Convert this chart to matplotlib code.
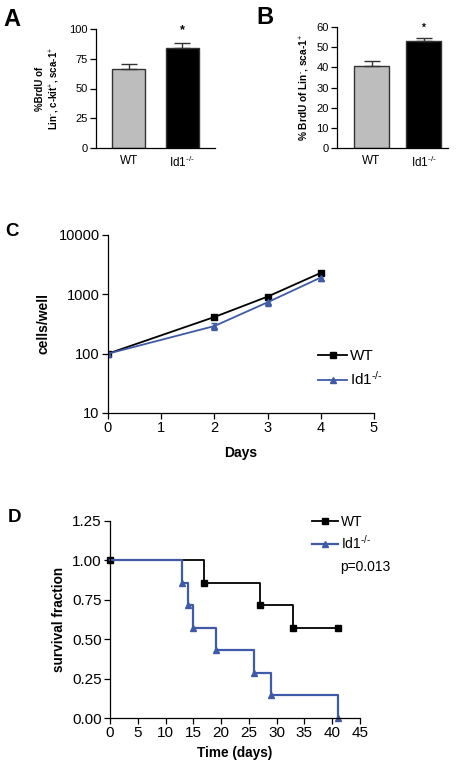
import numpy as np
import matplotlib
matplotlib.use("Agg")
import matplotlib.pyplot as plt

plt.rcParams['font.family'] = ['Liberation Sans', 'DejaVu Sans']
plt.rcParams['mathtext.fontset'] = 'custom'
plt.rcParams['mathtext.rm'] = 'Liberation Sans'
plt.rcParams['mathtext.it'] = 'Liberation Sans:italic'
plt.rcParams['mathtext.bf'] = 'Liberation Sans:bold'

# ---- data ----
ko_name = r'Id1$^{\text{-/-}}$'
groups = ['WT', ko_name]
bar_colors = ['#bdbdbd', '#000000']

a_vals = [66, 84]
a_err = [4.5, 4.5]
b_vals = [40.5, 53]
b_err = [2.5, 1.7]

c_days = [0, 2, 3, 4]
c_wt = [100, 415, 915, 2300]
c_wt_err = [3, 30, 60, 200]
c_ko = [100, 292, 735, 1920]
c_ko_err = [3, 40, 110, 250]

d_wt_t = [0, 17, 27, 33, 41]
d_wt_s = [1.0, 0.857, 0.714, 0.571, 0.571]
d_ko_t = [0, 13, 14, 15, 19, 26, 29, 41]
d_ko_s = [1.0, 0.857, 0.714, 0.571, 0.429, 0.286, 0.143, 0.0]

blue = '#3f5aa6'
W, H = 463, 769

fig = plt.figure(figsize=(W / 100, H / 100), dpi=100)


def px_axes(left, top, right, bottom):
    return fig.add_axes([left / W, 1 - bottom / H, (right - left) / W, (bottom - top) / H])


def style(ax, size):
    for s in ['top', 'right']:
        ax.spines[s].set_visible(False)
    for s in ['left', 'bottom']:
        ax.spines[s].set_linewidth(0.9)
    ax.tick_params(direction='out', length=4, width=0.9, labelsize=size, pad=2)


# ---- panel A ----
axA = px_axes(96, 29, 215, 148)
axA.bar([0, 1], a_vals, width=0.62, color=bar_colors, edgecolor='#333333', linewidth=1)
axA.errorbar([0, 1], a_vals, yerr=[[0, 0], a_err], fmt='none', ecolor='#333333',
             elinewidth=1, capsize=6, capthick=1)
axA.set_xlim(-0.62, 1.62)
axA.set_ylim(0, 100)
axA.set_yticks([0, 25, 50, 75, 100])
axA.set_xticks([0, 1])
axA.set_xticklabels(groups)
style(axA, 8)
axA.tick_params(axis='x', length=0, pad=5, labelsize=8.5)
axA.text(1, 99, '*', ha='center', va='center', fontsize=9, fontweight='bold')
axA.set_ylabel('%BrdU of\nLin$^{\\text{-}}$, c-kit$^{+}$, sca-1$^{+}$', fontsize=7,
               fontweight='bold', labelpad=5, linespacing=1.3)
fig.text(3 / W, 1 - 19 / H, 'A', fontsize=17, fontweight='bold', va='center')

# ---- panel B ----
axB = px_axes(337, 27, 448, 148)
axB.bar([0, 1], b_vals, width=0.67, color=bar_colors, edgecolor='#333333', linewidth=1)
axB.errorbar([0, 1], b_vals, yerr=[[0, 0], b_err], fmt='none', ecolor='#333333',
             elinewidth=1, capsize=6, capthick=1)
axB.set_xlim(-0.66, 1.46)
axB.set_ylim(0, 60)
axB.set_yticks(range(0, 61, 10))
axB.set_xticks([0, 1])
axB.set_xticklabels(groups)
style(axB, 8)
axB.tick_params(axis='x', length=0, pad=5, labelsize=8.5)
axB.text(1, 59.5, '*', ha='center', va='center', fontsize=7, fontweight='bold')
axB.set_ylabel('% BrdU of Lin$^{\\text{-}}$, sca-1$^{+}$', fontsize=7.3, fontweight='bold',
               labelpad=3)
fig.text(256 / W, 1 - 17 / H, 'B', fontsize=17, fontweight='bold', va='center')

# ---- panel C ----
axC = px_axes(108, 235, 374, 413)
axC.errorbar(c_days, c_wt, yerr=c_wt_err, color='black', marker='s', markersize=4.5,
             linewidth=1.3, capsize=2.5, elinewidth=0.8, label='WT')
axC.errorbar(c_days, c_ko, yerr=c_ko_err, color=blue, marker='^', markersize=4,
             linewidth=1.3, capsize=2.5, elinewidth=0.8, label=ko_name)
axC.set_yscale('log')
axC.set_ylim(10, 10000)
axC.set_xlim(0, 5)
axC.set_yticks([10, 100, 1000, 10000])
axC.set_yticklabels(['10', '100', '1000', '10000'])
axC.minorticks_off()
axC.set_xticks(range(0, 6))
style(axC, 10.5)
axC.set_xlabel('Days', fontsize=10, fontweight='bold', labelpad=8)
axC.set_ylabel('cells/well', fontsize=10, fontweight='bold', labelpad=6)
handles, labels = axC.get_legend_handles_labels()
handles = [h[0] for h in handles]
fig.legend(handles, labels, loc='center left', bbox_to_anchor=(318 / W, 1 - 368.5 / H),
           frameon=False, fontsize=11, handlelength=1.9, handletextpad=0.2,
           labelspacing=0.45, borderpad=0, borderaxespad=0)
fig.text(5 / W, 1 - 232 / H, 'C', fontsize=13.5, fontweight='bold', va='center')

# ---- panel D ----
axD = px_axes(110, 521, 360, 718)
axD.step(d_wt_t, d_wt_s, where='post', color='black', linewidth=1.3)
axD.plot(d_wt_t, d_wt_s, 's', color='black', markersize=5, label='WT')
axD.step(d_ko_t, d_ko_s, where='post', color=blue, linewidth=1.6)
axD.plot(d_ko_t[1:], d_ko_s[1:], '^', color=blue, markersize=4.5)
axD.set_xlim(0, 45)
axD.set_ylim(0, 1.25)
axD.set_xticks(range(0, 46, 5))
axD.set_yticks([0, 0.25, 0.5, 0.75, 1.0, 1.25])
axD.set_yticklabels(['%.2f' % v for v in [0, 0.25, 0.5, 0.75, 1.0, 1.25]])
for art in axD.lines:
    art.set_clip_on(False)
style(axD, 11)
axD.set_xlabel('Time (days)', fontsize=9.8, fontweight='bold', labelpad=4)
axD.set_ylabel('survival fraction', fontsize=9.8, fontweight='bold', labelpad=4)
hw = plt.Line2D([], [], color='black', marker='s', markersize=5, linewidth=1.3)
hk = plt.Line2D([], [], color=blue, marker='^', markersize=4.5, linewidth=1.6)
fig.legend([hw, hk], ['WT', ko_name], loc='center left',
           bbox_to_anchor=(312 / W, 1 - 533 / H), frameon=False, fontsize=10,
           handlelength=1.9, handletextpad=0.2, labelspacing=0.35, borderpad=0,
           borderaxespad=0)
fig.text(340 / W, 1 - 567 / H, 'p=0.013', fontsize=10, va='center')
fig.text(8 / W, 1 - 517 / H, 'D', fontsize=13.5, fontweight='bold', va='center')

fig.savefig('out.png', dpi=100)
